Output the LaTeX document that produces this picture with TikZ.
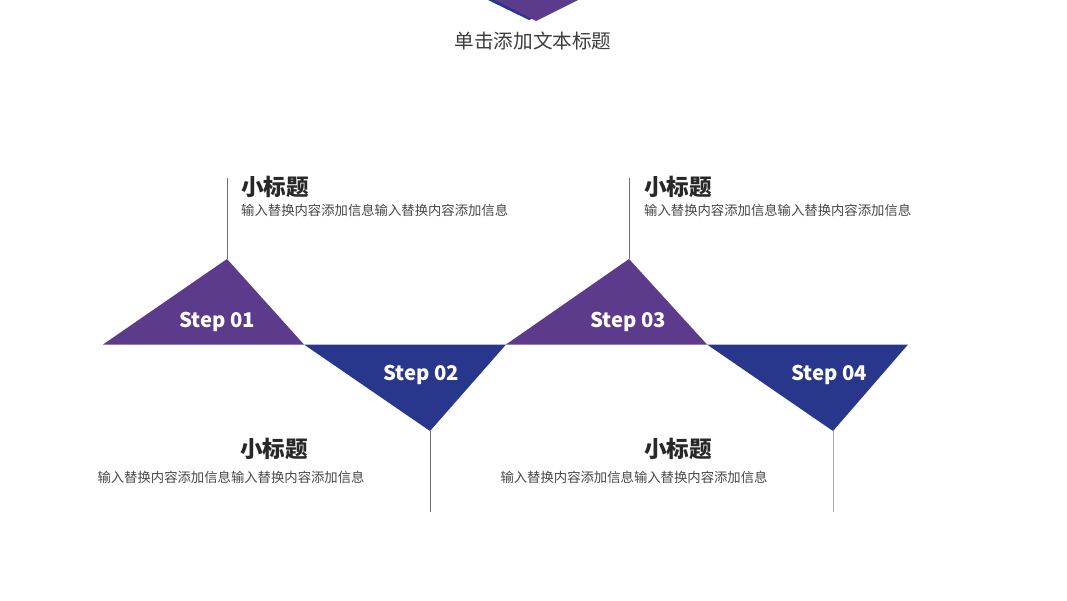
\documentclass[tikz,border=0pt]{standalone}
\usepackage{fontspec}
\setmainfont{Noto Sans}
\newfontfamily\cjk{Noto Sans CJK SC}
\definecolor{tripurple}{RGB}{92,58,140}
\definecolor{triblue}{RGB}{40,54,140}
\definecolor{linegray}{RGB}{110,110,110}
\definecolor{textdark}{RGB}{40,40,40}
\tikzset{
  px/.style={x=1pt,y=-1pt},
  steplabel/.style={text=white,font=\cjk\fontsize{20.3}{21}\selectfont\bfseries,inner sep=0pt},
  subhead/.style={text=textdark,font=\cjk\fontsize{22.6}{23}\selectfont\bfseries,inner sep=0pt},
  bodytext/.style={text=textdark!85,font=\cjk\fontsize{13.35}{14}\selectfont,inner sep=0pt},
  titletext/.style={text=textdark!90,font=\cjk\fontsize{19.6}{20}\selectfont,inner sep=0pt},
  stem/.style={draw=linegray,line width=0.9pt}
}
\begin{document}
\begin{tikzpicture}[px]
\useasboundingbox (0,0) rectangle (1067,600);
\fill[white] (0,0) rectangle (1067,600);
% top partial decoration
\fill[triblue] (488,0) -- (570,0) -- (529,20) -- cycle;
\fill[tripurple] (495,0) -- (578,0) -- (536,21) -- cycle;
\node[titletext] (title) at (533,41) {单击添加文本标题};
% triangle corners
\coordinate (a1) at (227,259);
\coordinate (a2) at (430,431);
\coordinate (a3) at (629,259);
\coordinate (a4) at (833,431);
\coordinate (l1) at (103,344.5);
\coordinate (b1) at (304,344.5);
\coordinate (b2) at (506,344.5);
\coordinate (b3) at (707,344.5);
\coordinate (b4) at (908,344.5);
\fill[tripurple] (l1) -- (a1) -- (b1) -- cycle;
\fill[triblue] (b1) -- (a2) -- (b2) -- cycle;
\fill[tripurple] (b2) -- (a3) -- (b3) -- cycle;
\fill[triblue] (b3) -- (a4) -- (b4) -- cycle;
% stems
\coordinate (t1) at (227,178);
\coordinate (t3) at (629,178);
\coordinate (e2) at (430,512);
\coordinate (e4) at (833,512);
\draw[stem] (a1) -- (t1);
\draw[stem] (a3) -- (t3);
\draw[stem] (a2) -- (e2);
\draw[stem,draw=linegray!60] (a4) -- (e4);
% step labels
\node[steplabel] (s1) at (217,322) {Step 01};
\node[steplabel] (s2) at (421,375) {Step 02};
\node[steplabel] (s3) at (628,322) {Step 03};
\node[steplabel] (s4) at (829,375) {Step 04};
% texts
\node[subhead,anchor=west] (h1) at (241,187) {小标题};
\node[bodytext,anchor=west] (d1) at (241,210) {输入替换内容添加信息输入替换内容添加信息};
\node[subhead,anchor=west] (h3) at (644,187) {小标题};
\node[bodytext,anchor=west] (d3) at (644,210) {输入替换内容添加信息输入替换内容添加信息};
\node[subhead] (h2) at (274,449) {小标题};
\node[bodytext] (d2) at (231,477) {输入替换内容添加信息输入替换内容添加信息};
\node[subhead] (h4) at (678,449) {小标题};
\node[bodytext] (d4) at (634,477) {输入替换内容添加信息输入替换内容添加信息};
\end{tikzpicture}
\end{document}
